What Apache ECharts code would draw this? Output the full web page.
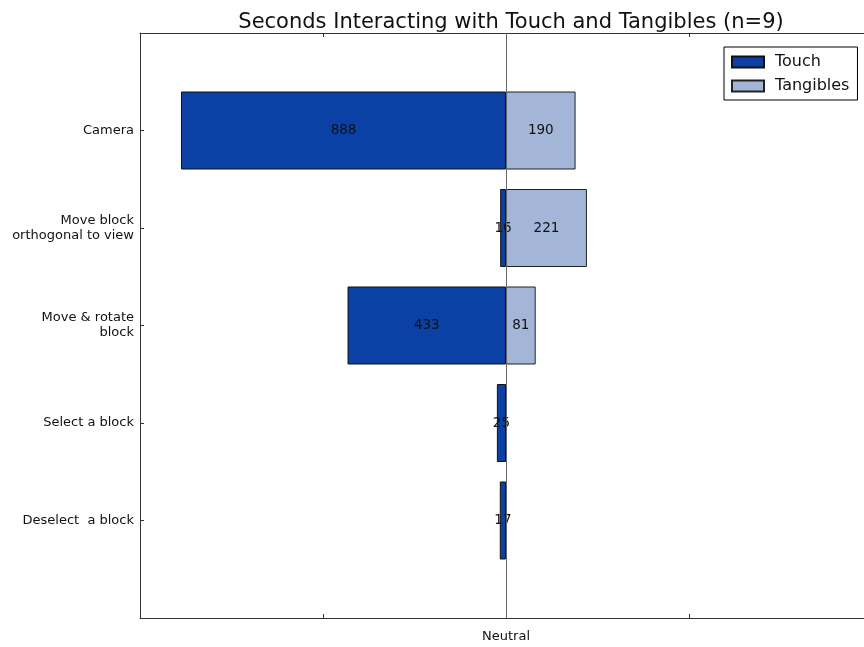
<!DOCTYPE html>
<html>
<head>
<meta charset="utf-8">
<script src="https://cdn.jsdelivr.net/npm/echarts@6/dist/echarts.min.js"></script>
<style>html,body{margin:0;padding:0;background:#fff;}#c{width:864px;height:647px;}</style>
</head>
<body>
<div id="c"></div>
<script>
const categories = ['Camera', 'Move block\northogonal to view', 'Move & rotate\nblock', 'Select a block', 'Deselect  a block'];
const touchValues = [888, 16, 433, 25, 17];
const tangiblesValues = [190, 221, 81, null, null];
const xTickLabels = {'0': 'Neutral'};

const chart = echarts.init(document.getElementById('c'), null, {renderer: 'canvas'});
const yCats = [''].concat(categories).concat(['']);
const touchData = [null].concat(touchValues.map(v => -v)).concat([null]);
const tangData = [null].concat(tangiblesValues).concat([null]);
const font = 'DejaVu Sans';

chart.setOption({
  animation: false,
  title: {
    text: 'Seconds Interacting with Touch and Tangibles (n=9)',
    left: 506, textAlign: 'center', top: 7,
    textStyle: {fontFamily: font, fontSize: 21, fontWeight: 'normal', color: '#111'}
  },
  legend: {
    orient: 'vertical', left: 724, top: 47,
    width: 133,
    padding: [7, 8, 6, 7],
    borderColor: '#000', borderWidth: 1,
    itemWidth: 32, itemHeight: 11, itemGap: 8,
    icon: 'rect',
    textStyle: {fontFamily: font, fontSize: 16, color: '#111', lineHeight: 14, padding: [0, 0, 0, 6]},
    data: ['Touch', 'Tangibles']
  },
  grid: {left: 140, top: 33, right: 0, bottom: 29, containLabel: false},
  xAxis: [{
    type: 'value', min: -1000, max: 978, interval: 500,
    axisLine: {show: true, onZero: false, lineStyle: {color: '#333', width: 1}},
    axisTick: {show: true, inside: true, length: 4, lineStyle: {color: '#333'}},
    axisLabel: {formatter: v => xTickLabels[String(v)] || '', fontFamily: font, fontSize: 13, color: '#111', margin: 12, showMaxLabel: false},
    splitLine: {show: false}
  }, {
    type: 'value', position: 'top', min: -1000, max: 978, interval: 500,
    axisLine: {show: true, onZero: false, lineStyle: {color: '#333', width: 1}},
    axisTick: {show: true, inside: true, length: 4, lineStyle: {color: '#333'}},
    axisLabel: {show: false},
    splitLine: {show: false}
  }],
  yAxis: {
    type: 'category', data: yCats, inverse: true, boundaryGap: false,
    axisLine: {show: true, onZero: false, lineStyle: {color: '#333', width: 1}},
    axisTick: {show: true, inside: true, length: 4, lineStyle: {color: '#333'}},
    axisLabel: {fontFamily: font, fontSize: 13, color: '#111', margin: 6, lineHeight: 15, align: 'right'},
    splitLine: {show: false}
  },
  series: [{
    name: 'Touch', type: 'bar', data: touchData, barWidth: 78, barGap: '-100%',
    itemStyle: {color: '#0b41a4', borderColor: '#111', borderWidth: 1},
    label: {show: true, position: 'inside', formatter: p => Math.abs(p.value), fontFamily: font, fontSize: 13.5, color: '#111'},
    z: 2
  }, {
    name: 'Tangibles', type: 'bar', data: tangData, barWidth: 78, barGap: '-100%',
    itemStyle: {color: '#a3b6d8', borderColor: '#222', borderWidth: 1},
    label: {show: true, position: 'inside', formatter: p => p.value, fontFamily: font, fontSize: 13.5, color: '#111'},
    z: 2
  }, {
    name: 'neutral', type: 'line', data: [], z: 5,
    markLine: {
      silent: true, symbol: 'none', label: {show: false},
      lineStyle: {color: '#666', width: 1, type: 'solid'},
      data: [{xAxis: 0}]
    }
  }]
});
</script>
</body>
</html>
